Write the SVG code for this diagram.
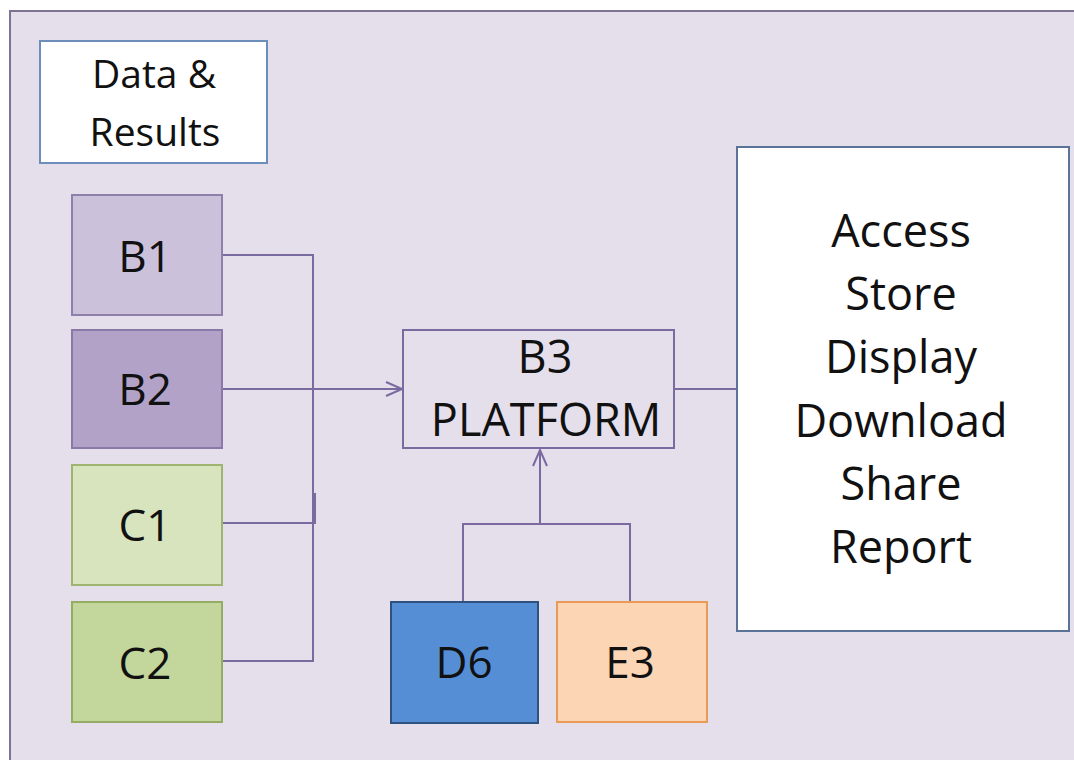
<svg xmlns="http://www.w3.org/2000/svg" width="1074" height="760" viewBox="0 0 1074 760">
<style>
text{font-family:"Open Sans","Liberation Sans",Arial,sans-serif;fill:#111;text-anchor:middle}
.t45{font-size:45px}
.t44{font-size:44px}
.t39{font-size:39px}
.con{fill:none;stroke:#7b6aa0;stroke-width:2}
.box{stroke-width:2}
</style>
<defs>
<marker id="arr" viewBox="0 0 20 20" refX="18" refY="10" markerWidth="20" markerHeight="20" markerUnits="userSpaceOnUse" orient="auto">
<path d="M2,3 L18,10 L2,17" fill="none" stroke="#7b6aa0" stroke-width="2"/>
</marker>
</defs>
<rect x="0" y="0" width="1074" height="760" fill="#ffffff"/>
<rect x="10" y="11" width="1080" height="760" fill="#e5dfec" stroke="#7f7394" stroke-width="2"/>

<g id="connectors">
<path class="con" d="M222,255 H313 V661 H222"/>
<path class="con" d="M222,523 H315 V493"/>
<path class="con" d="M222,389 H402" marker-end="url(#arr)"/>
<path class="con" d="M674,389 H737"/>
<path class="con" d="M463,602 V524 H630 V602"/>
<path class="con" d="M540,524 V450" marker-end="url(#arr)"/>
</g>

<g id="data-results">
<rect class="box" x="40" y="41" width="227" height="122" fill="#ffffff" stroke="#6d8dba"/>
<text class="t39" x="154" y="88">Data &amp;</text>
<text class="t39" x="155" y="146">Results</text>
</g>

<g id="B1">
<rect class="box" x="72" y="195" width="150" height="120" fill="#ccc1da" stroke="#8e80ab"/>
<text class="t44" x="145" y="272">B1</text>
</g>

<g id="B2">
<rect class="box" x="72" y="330" width="150" height="118" fill="#b3a2c7" stroke="#8a78a8"/>
<text class="t44" x="145" y="405">B2</text>
</g>

<g id="C1">
<rect class="box" x="72" y="465" width="150" height="120" fill="#d7e4bd" stroke="#9fb56f"/>
<text class="t44" x="145" y="541">C1</text>
</g>

<g id="C2">
<rect class="box" x="72" y="602" width="150" height="120" fill="#c3d69b" stroke="#94ad63"/>
<text class="t44" x="145" y="679">C2</text>
</g>

<g id="B3">
<rect class="box" x="403" y="330" width="271" height="118" fill="none" stroke="#7b6aa0"/>
<text class="t45" x="545" y="373">B3</text>
<text class="t45" x="546" y="436">PLATFORM</text>
</g>

<g id="D6">
<rect class="box" x="391" y="602" width="147" height="121" fill="#558ed5" stroke="#2e5280"/>
<text class="t44" x="464" y="678">D6</text>
</g>

<g id="E3">
<rect class="box" x="557" y="602" width="150" height="120" fill="#fcd5b5" stroke="#eb9a55"/>
<text class="t44" x="630" y="678">E3</text>
</g>

<g id="actions">
<rect class="box" x="737" y="147" width="332" height="484" fill="#ffffff" stroke="#5b7299"/>
<text class="t45" x="901" y="247">Access</text>
<text class="t45" x="901" y="310">Store</text>
<text class="t45" x="901" y="373">Display</text>
<text class="t45" x="901" y="437">Download</text>
<text class="t45" x="901" y="500">Share</text>
<text class="t45" x="901" y="563">Report</text>
</g>
</svg>
